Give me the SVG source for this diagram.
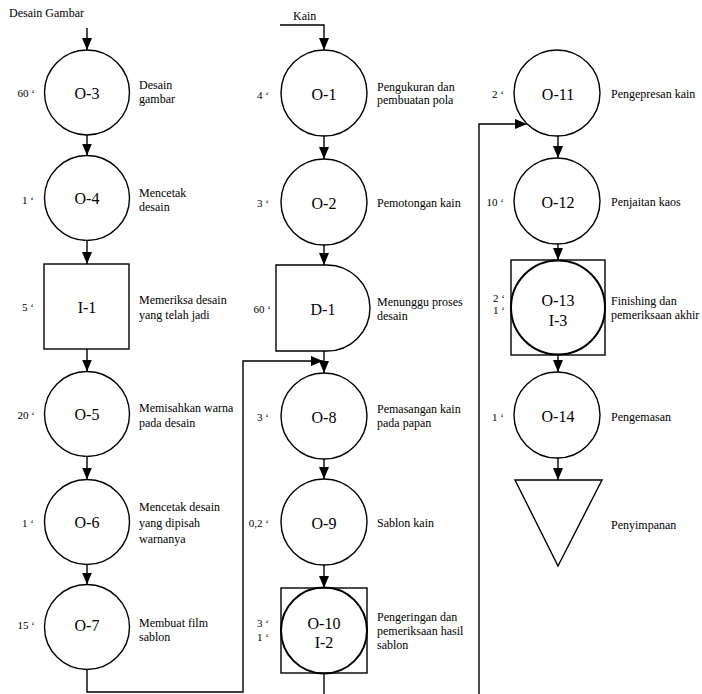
<svg xmlns="http://www.w3.org/2000/svg" width="702" height="694" viewBox="0 0 702 694" font-family="'Liberation Serif', 'Times New Roman', Times, 'DejaVu Serif', serif">
<style>
.sh{fill:#fff;stroke:#000;stroke-width:1.4}
.thk{fill:none;stroke:#000;stroke-width:2}
text{font-family:'Liberation Serif','Times New Roman',Times,'DejaVu Serif',serif;fill:#000}
.lbl{font-size:16px;text-anchor:middle}
.txt{font-size:12px}
.tm{font-size:11px;text-anchor:end}
.cn{fill:none;stroke:#000;stroke-width:1.4}
</style>
<defs>
<marker id="ah" viewBox="0 0 12 10" refX="12" refY="5" markerWidth="12" markerHeight="10" orient="auto" markerUnits="userSpaceOnUse">
<path d="M0,0 L12,5 L0,10 z" fill="#000"/>
</marker>
</defs>
<rect width="702" height="694" fill="#fff"/>

<g id="connectors">
<line class="cn" x1="87" y1="28" x2="87" y2="50" marker-end="url(#ah)"/>
<line class="cn" x1="87" y1="135" x2="87" y2="155.5" marker-end="url(#ah)"/>
<line class="cn" x1="87" y1="240.5" x2="87" y2="264" marker-end="url(#ah)"/>
<line class="cn" x1="87" y1="349" x2="87" y2="371.5" marker-end="url(#ah)"/>
<line class="cn" x1="87" y1="456.5" x2="87" y2="479.5" marker-end="url(#ah)"/>
<line class="cn" x1="87" y1="564.5" x2="87" y2="584.5" marker-end="url(#ah)"/>
<polyline class="cn" points="87,669.5 87,692 243,692 243,361 323,361" marker-end="url(#ah)"/>
<polyline class="cn" points="280,25 324,25 324,50" marker-end="url(#ah)"/>
<line class="cn" x1="324" y1="136" x2="324" y2="159" marker-end="url(#ah)"/>
<line class="cn" x1="324" y1="245" x2="324" y2="265" marker-end="url(#ah)"/>
<line class="cn" x1="324" y1="351" x2="324" y2="373" marker-end="url(#ah)"/>
<line class="cn" x1="324" y1="459" x2="324" y2="479" marker-end="url(#ah)"/>
<line class="cn" x1="324" y1="565" x2="324" y2="588" marker-end="url(#ah)"/>
<line class="cn" x1="324" y1="673" x2="324" y2="694"/>
<polyline class="cn" points="479,694 479,124 527,124" marker-end="url(#ah)"/>
<line class="cn" x1="558" y1="136" x2="558" y2="158" marker-end="url(#ah)"/>
<line class="cn" x1="558" y1="244" x2="558" y2="260" marker-end="url(#ah)"/>
<line class="cn" x1="558" y1="355" x2="558" y2="372" marker-end="url(#ah)"/>
<line class="cn" x1="558" y1="458" x2="558" y2="480" marker-end="url(#ah)"/>
</g>

<text class="txt" x="9" y="17">Desain Gambar</text>
<text class="txt" x="293" y="20">Kain</text>

<g id="O-3">
<circle class="sh" cx="87" cy="92.5" r="42.5"/>
<text class="lbl" x="87" y="98.5">O-3</text>
<text class="tm" x="35" y="97">60 ‘</text>
<text class="txt" x="139" y="89">Desain</text>
<text class="txt" x="139" y="103">gambar</text>
</g>
<g id="O-4">
<circle class="sh" cx="87" cy="198" r="42.5"/>
<text class="lbl" x="87" y="204">O-4</text>
<text class="tm" x="34" y="204">1 ‘</text>
<text class="txt" x="139" y="197">Mencetak</text>
<text class="txt" x="139" y="211">desain</text>
</g>
<g id="I-1">
<rect class="sh" x="44" y="264" width="85" height="85"/>
<text class="lbl" x="87" y="312.5">I-1</text>
<text class="tm" x="34" y="311">5 ‘</text>
<text class="txt" x="139" y="304">Memeriksa desain</text>
<text class="txt" x="139" y="319">yang telah jadi</text>
</g>
<g id="O-5">
<circle class="sh" cx="87" cy="414" r="42.5"/>
<text class="lbl" x="87" y="420">O-5</text>
<text class="tm" x="35" y="419">20 ‘</text>
<text class="txt" x="139" y="412">Memisahkan warna</text>
<text class="txt" x="139" y="427">pada desain</text>
</g>
<g id="O-6">
<circle class="sh" cx="87" cy="522" r="42.5"/>
<text class="lbl" x="87" y="528">O-6</text>
<text class="tm" x="34" y="527">1 ‘</text>
<text class="txt" x="139" y="511">Mencetak desain</text>
<text class="txt" x="139" y="527">yang dipisah</text>
<text class="txt" x="139" y="543">warnanya</text>
</g>
<g id="O-7">
<circle class="sh" cx="87" cy="627" r="42.5"/>
<text class="lbl" x="87" y="631">O-7</text>
<text class="tm" x="35" y="629">15 ‘</text>
<text class="txt" x="139" y="627">Membuat film</text>
<text class="txt" x="139" y="641">sablon</text>
</g>

<g id="O-1">
<circle class="sh" cx="324" cy="93" r="43"/>
<text class="lbl" x="324" y="100">O-1</text>
<text class="tm" x="269" y="99">4 ‘</text>
<text class="txt" x="377" y="91">Pengukuran dan</text>
<text class="txt" x="377" y="104">pembuatan pola</text>
</g>
<g id="O-2">
<circle class="sh" cx="324" cy="202" r="43"/>
<text class="lbl" x="324" y="208.5">O-2</text>
<text class="tm" x="269" y="207">3 ‘</text>
<text class="txt" x="377" y="207">Pemotongan kain</text>
</g>
<g id="D-1">
<path class="sh" d="M276,265 H327 A43,43 0 0 1 327,351 H276 Z"/>
<text class="lbl" x="323" y="314.5">D-1</text>
<text class="tm" x="271" y="313">60 ‘</text>
<text class="txt" x="377" y="306">Menunggu proses</text>
<text class="txt" x="377" y="320">desain</text>
</g>
<g id="O-8">
<circle class="sh" cx="324" cy="416" r="43"/>
<text class="lbl" x="324" y="422.5">O-8</text>
<text class="tm" x="269" y="421">3 ‘</text>
<text class="txt" x="377" y="413">Pemasangan kain</text>
<text class="txt" x="377" y="427">pada papan</text>
</g>
<g id="O-9">
<circle class="sh" cx="324" cy="522" r="43"/>
<text class="lbl" x="324" y="528.5">O-9</text>
<text class="tm" x="269" y="527">0,2 ‘</text>
<text class="txt" x="377" y="527">Sablon kain</text>
</g>
<g id="O-10">
<rect class="sh" x="281" y="588" width="86" height="85"/>
<circle class="thk" cx="324" cy="630.5" r="43"/>
<text class="lbl" x="324" y="628.5">O-10</text>
<text class="lbl" x="324" y="647.5">I-2</text>
<text class="tm" x="269" y="627">3 ‘</text>
<text class="tm" x="269" y="641">1 ‘</text>
<text class="txt" x="377" y="621">Pengeringan dan</text>
<text class="txt" x="377" y="635">pemeriksaan hasil</text>
<text class="txt" x="377" y="649">sablon</text>
</g>

<g id="O-11">
<circle class="sh" cx="557" cy="93" r="43"/>
<text class="lbl" x="558" y="99.5">O-11</text>
<text class="tm" x="504" y="98">2 ‘</text>
<text class="txt" x="611" y="98">Pengepresan kain</text>
</g>
<g id="O-12">
<circle class="sh" cx="557" cy="201" r="43"/>
<text class="lbl" x="558" y="207.5">O-12</text>
<text class="tm" x="504" y="206">10 ‘</text>
<text class="txt" x="611" y="206">Penjaitan kaos</text>
</g>
<g id="O-13">
<rect class="sh" x="511" y="260" width="94" height="95"/>
<circle class="thk" cx="558" cy="307.5" r="47"/>
<text class="lbl" x="558" y="305.5">O-13</text>
<text class="lbl" x="558" y="325.5">I-3</text>
<text class="tm" x="505" y="302">2 ‘</text>
<text class="tm" x="505" y="314">1 ‘</text>
<text class="txt" x="611" y="305">Finishing dan</text>
<text class="txt" x="611" y="319">pemeriksaan akhir</text>
</g>
<g id="O-14">
<circle class="sh" cx="557" cy="415" r="43"/>
<text class="lbl" x="558" y="422">O-14</text>
<text class="tm" x="504" y="421">1 ‘</text>
<text class="txt" x="611" y="421">Pengemasan</text>
</g>
<g id="S">
<polygon class="sh" points="515,480 602,480 558,566"/>
<text class="txt" x="611" y="529">Penyimpanan</text>
</g>
</svg>
